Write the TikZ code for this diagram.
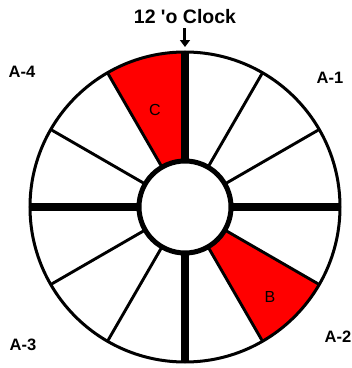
\documentclass[tikz,border=0pt]{standalone}
\usepackage{fontspec}
\setmainfont{Liberation Sans}[Ligatures=TeXOff]
\usetikzlibrary{arrows.meta,calc}
\begin{document}
\begin{tikzpicture}[x=1pt,y=1pt,
  lbl/.style={font=\bfseries\fontsize{16.5}{18}\selectfont, inner sep=0pt},
  titlelbl/.style={font=\bfseries\fontsize{19.5}{21}\selectfont, inner sep=0pt},
  seglbl/.style={font=\fontsize{16}{17}\selectfont, inner sep=0pt},
  thinspoke/.style={line width=2.9pt},
  thickspoke/.style={line width=8pt},
  redsector/.style={fill=red}]
\useasboundingbox (0,0) rectangle (352,368);
\coordinate (O) at (185,161);
\def\Ro{155}\def\Ri{46}
% red sectors
\fill[redsector] ($(O)+(90:\Ri)$) -- ($(O)+(90:\Ro)$) arc[start angle=90,end angle=120,radius=\Ro] -- ($(O)+(120:\Ri)$) arc[start angle=120,end angle=90,radius=\Ri] -- cycle;
\fill[redsector] ($(O)+(-60:\Ri)$) -- ($(O)+(-60:\Ro)$) arc[start angle=-60,end angle=-30,radius=\Ro] -- ($(O)+(-30:\Ri)$) arc[start angle=-30,end angle=-60,radius=\Ri] -- cycle;
% spokes
\foreach \a in {30,60,120,150,210,240,300,330}
  \draw[thinspoke] ($(O)+(\a:\Ri)$) -- ($(O)+(\a:\Ro)$);
\foreach \a in {0,90,180,270}
  \draw[thickspoke] ($(O)+(\a:\Ri)$) -- ($(O)+(\a:\Ro)$);
% circles
\draw[line width=3pt] (O) circle[radius=\Ro];
\draw[line width=5pt, fill=white] (O) circle[radius=\Ri];
% labels
\node[titlelbl] (title) at (185,351) {12 'o Clock};
\coordinate (tip) at (185,321);
\draw[line width=3pt, -{Triangle[length=7pt,width=10pt]}] (185,340) -- (tip);
\node[lbl] (a4) at (22,296) {A-4};
\node[lbl] (a1) at (330,290) {A-1};
\node[lbl] (a3) at (23,23) {A-3};
\node[lbl] (a2) at (338,31) {A-2};
\node[seglbl] (c) at (155,258) {C};
\node[seglbl] (b) at (270,71) {B};
\end{tikzpicture}
\end{document}
